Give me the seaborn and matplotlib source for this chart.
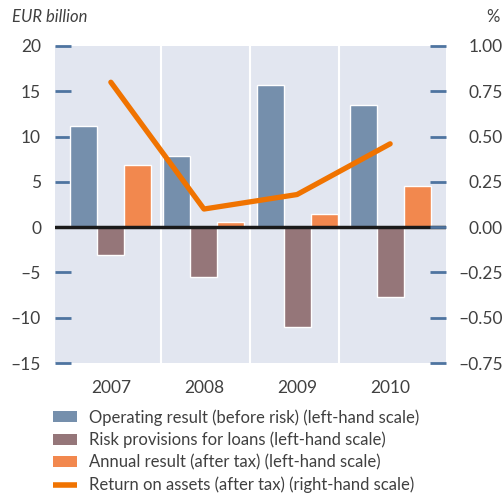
import numpy as np
import pandas as pd
import matplotlib
matplotlib.use("Agg")
import matplotlib.pyplot as plt
import seaborn as sns
from matplotlib.patches import Patch
from matplotlib.lines import Line2D
from matplotlib.ticker import FixedLocator, FuncFormatter

# ---------------- data ----------------
years = ["2007", "2008", "2009", "2010"]
operating = [11.2, 7.85, 15.7, 13.5]
risk_provisions = [-3.1, -5.5, -11.05, -7.7]
annual_result = [6.85, 0.55, 1.5, 4.55]
roa = [0.80, 0.10, 0.18, 0.46]
series_names = [
    "Operating result (before risk) (left-hand scale)",
    "Risk provisions for loans (left-hand scale)",
    "Annual result (after tax) (left-hand scale)",
]
line_name = "Return on assets (after tax) (right-hand scale)"
left_ticks = [-15, -10, -5, 0, 5, 10, 15, 20]
right_ticks = [-0.75, -0.50, -0.25, 0.0, 0.25, 0.50, 0.75, 1.00]

# ---------------- style ----------------
bar_colors = ["#758FAC", "#957679", "#F2884E"]
line_color = "#F07300"
bg_color = "#E2E6F0"
tick_color = "#4E74A0"
text_color = "#404040"

sns.set_theme(style="white")
plt.rcParams['font.family'] = ['Lato', 'DejaVu Sans']

df = pd.DataFrame({
    "year": years * 3,
    "value": operating + risk_provisions + annual_result,
    "series": [series_names[0]] * 4 + [series_names[1]] * 4 + [series_names[2]] * 4,
})

fig = plt.figure(figsize=(5.04, 4.95), dpi=100)
ax = fig.add_axes([55 / 504, 1 - 363 / 495, (446 - 55) / 504, (363 - 46) / 495])
ax.set_facecolor(bg_color)
for s in ax.spines.values():
    s.set_visible(False)

sns.barplot(data=df, x="year", y="value", hue="series", palette=bar_colors,
            width=0.87, gap=0, saturation=1, ax=ax, legend=False, zorder=2)

for xs in [0.535, 1.495, 2.455]:
    ax.axvline(xs, color="white", lw=1.5, zorder=1)
ax.axhline(0, color="#1A1A1A", lw=2.5, zorder=3)

ax.set_xlim(-0.6, 3.6)
ax.set_ylim(-15, 20)
ax.yaxis.set_major_locator(FixedLocator(left_ticks))
ax.yaxis.set_major_formatter(FuncFormatter(lambda v, p: f"{v:.0f}".replace("-", "\u2013")))
ax.tick_params(axis="y", direction="in", length=11.5, width=2, color=tick_color,
               labelsize=12.5, labelcolor=text_color, pad=10, left=True)
ax.tick_params(axis="x", length=0, labelsize=12.5, labelcolor=text_color, pad=12)
ax.set_xlabel("")
ax.set_ylabel("")

ax2 = ax.twinx()
for s in ax2.spines.values():
    s.set_visible(False)
sns.lineplot(x=np.arange(len(years)), y=roa, ax=ax2, color=line_color, linewidth=3.8)
ax2.set_ylim(-0.75, 1.0)
ax2.yaxis.set_major_locator(FixedLocator(right_ticks))
ax2.yaxis.set_major_formatter(FuncFormatter(lambda v, p: f"{v:.2f}".replace("-", "\u2013")))
ax2.tick_params(axis="y", direction="in", length=11.5, width=2, color=tick_color,
                labelsize=12.5, labelcolor=text_color, pad=41, right=True)
for lab in ax2.get_yticklabels():
    lab.set_horizontalalignment("right")
ax2.set_xlim(-0.6, 3.6)

fig.text(12 / 504, 1 - 17 / 495, "EUR billion", style="italic", fontsize=12,
         color=text_color, va="center", ha="left")
fig.text(500 / 504, 1 - 17 / 495, "%", fontsize=12, color=text_color,
         va="center", ha="right")

handles = [Patch(facecolor=c, edgecolor="none") for c in bar_colors]
handles.append(Line2D([0], [0], color=line_color, lw=4, solid_capstyle="butt"))
fig.legend(handles, series_names + [line_name], loc="upper left",
           bbox_to_anchor=(53 / 504, 1 - 409 / 495), frameon=False,
           fontsize=12, labelcolor=text_color, borderpad=0, borderaxespad=0,
           handlelength=1.45, handleheight=0.65, handletextpad=0.7,
           labelspacing=0.37)

fig.savefig("out.png", dpi=100)
